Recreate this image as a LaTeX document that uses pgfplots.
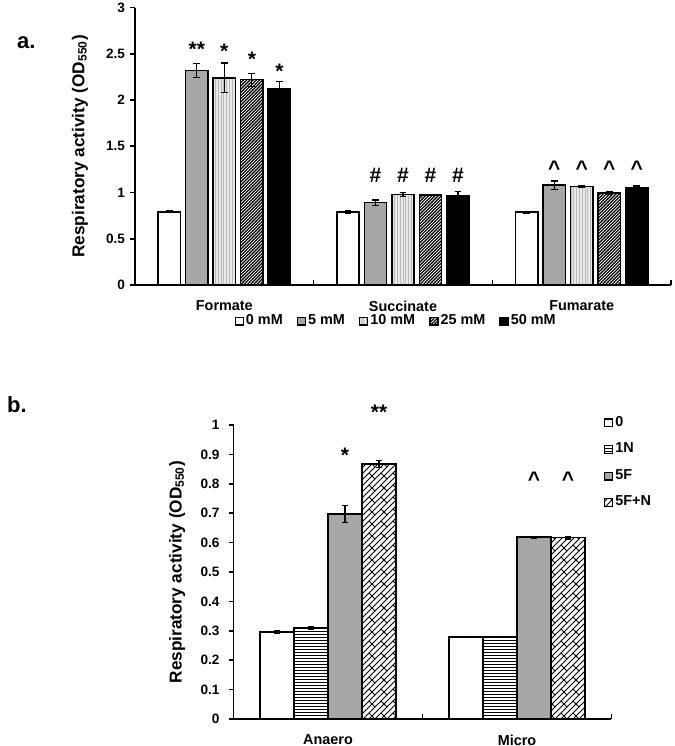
\documentclass[border=0pt]{standalone}
\usepackage{fontspec}
\setmainfont{Liberation Sans}
\usepackage{pgfplots}
\usepackage{pgfplotstable}
\pgfplotsset{compat=1.18}
\usetikzlibrary{patterns}

\definecolor{gfive}{RGB}{166,166,166}

\pgfdeclarepatternformonly{denseNE}{\pgfqpoint{-0.3pt}{-0.3pt}}{\pgfqpoint{1.9pt}{1.9pt}}{\pgfqpoint{1.6pt}{1.6pt}}{%
  \pgfsetlinewidth{0.6pt}%
  \pgfpathmoveto{\pgfqpoint{-0.1pt}{-0.1pt}}%
  \pgfpathlineto{\pgfqpoint{1.7pt}{1.7pt}}%
  \pgfusepath{stroke}}
\pgfdeclarepatternformonly{hfine}{\pgfqpoint{-0.1pt}{-0.4pt}}{\pgfqpoint{1.6pt}{0.4pt}}{\pgfqpoint{1.5pt}{1.5pt}}{%
  \pgfsetlinewidth{0.5pt}%
  \pgfpathmoveto{\pgfqpoint{-0.1pt}{0pt}}%
  \pgfpathlineto{\pgfqpoint{1.6pt}{0pt}}%
  \pgfusepath{stroke}}
\pgfdeclarepatternformonly{vfine}{\pgfqpoint{-0.4pt}{-0.1pt}}{\pgfqpoint{0.4pt}{1.6pt}}{\pgfqpoint{1.4pt}{1.5pt}}{%
  \pgfsetlinewidth{0.5pt}%
  \pgfpathmoveto{\pgfqpoint{0pt}{-0.1pt}}%
  \pgfpathlineto{\pgfqpoint{0pt}{1.6pt}}%
  \pgfusepath{stroke}}
\pgfdeclarepatternformonly{diagbricks}{\pgfqpoint{-0.3pt}{-0.3pt}}{\pgfqpoint{6.3pt}{6.3pt}}{\pgfqpoint{6pt}{6pt}}{%
  \pgfsetlinewidth{0.45pt}%
  \pgfpathmoveto{\pgfqpoint{0pt}{0pt}}\pgfpathlineto{\pgfqpoint{6pt}{6pt}}%
  \pgfpathmoveto{\pgfqpoint{3pt}{0pt}}\pgfpathlineto{\pgfqpoint{6pt}{3pt}}%
  \pgfpathmoveto{\pgfqpoint{0pt}{3pt}}\pgfpathlineto{\pgfqpoint{3pt}{6pt}}%
  \pgfpathmoveto{\pgfqpoint{0pt}{3pt}}\pgfpathlineto{\pgfqpoint{1.5pt}{1.5pt}}%
  \pgfpathmoveto{\pgfqpoint{4.5pt}{4.5pt}}\pgfpathlineto{\pgfqpoint{6pt}{3pt}}%
  \pgfusepath{stroke}}

\newcommand{\tickfont}{\fontsize{6.8}{8}\selectfont\bfseries}
\newcommand{\catfont}{\fontsize{7.2}{8.5}\selectfont\bfseries}
\newcommand{\labfont}{\fontsize{8.6}{10}\selectfont\bfseries}
\newcommand{\annfont}{\fontsize{10.5}{12}\selectfont\bfseries}

% top chart data: x y err
\pgfplotstableread{
x y e
0 0.790 0.010
1 0.786 0.015
2 0.786 0.008
}\tzero
\pgfplotstableread{
x y e
0 2.320 0.075
1 0.890 0.030
2 1.080 0.045
}\tfive
\pgfplotstableread{
x y e
0 2.240 0.160
1 0.980 0.020
2 1.067 0.010
}\tten
\pgfplotstableread{
x y e
0 2.220 0.070
1 0.975 0.006
2 0.995 0.020
}\ttwentyfive
\pgfplotstableread{
x y e
0 2.120 0.080
1 0.960 0.055
2 1.050 0.020
}\tfifty
% bottom chart data
\pgfplotstableread{
x y e
0 0.296 0.005
1 0.279 0.002
}\bzero
\pgfplotstableread{
x y e
0 0.309 0.005
1 0.279 0.002
}\bone
\pgfplotstableread{
x y e
0 0.697 0.028
1 0.619 0.003
}\bfive
\pgfplotstableread{
x y e
0 0.868 0.012
1 0.617 0.005
}\bfiven

\pgfplotsset{
  mybars/.style={
    ybar, bar width=#1,
    axis x line*=bottom, axis y line*=left,
    axis line style={line width=0.8pt,-},
    tick align=outside, major tick length=2.5pt,
    tick style={line width=0.8pt, black},
    xtick style={draw=none},
    extra x tick labels={},
    extra x tick style={tick align=inside, xtick style={draw=black}},
    yticklabel style={font=\tickfont},
    /pgf/number format/assume math mode=true,
    ylabel={Respiratory activity (OD\textsubscript{550})},
    scale only axis, clip=false,
    legend cell align=left,
    legend image code/.code={\draw[##1, line width=0.7pt] (0pt,-1.9pt) rectangle (4pt,1.9pt);},
    every axis plot/.append style={draw=black, line width=0.8pt,
      /pgfplots/error bars/y dir=both, /pgfplots/error bars/y explicit,
      /pgfplots/error bars/error bar style={line width=0.6pt, draw=black, solid},
      /pgfplots/error bars/error mark options={rotate=90, mark size=1.7pt, line width=0.6pt, draw=black}},
  },
}

\begin{document}
\begin{tikzpicture}
\useasboundingbox (0,0) rectangle (337.5pt,373pt);

\node[anchor=west, font=\fontsize{11}{13}\selectfont\bfseries] at (5pt,351.5pt) {a.};
\node[anchor=west, font=\fontsize{11}{13}\selectfont\bfseries] at (0pt,170.5pt) {b.};

\begin{axis}[
  mybars=0.125,
  at={(67.5pt,230.5pt)}, anchor=south west,
  width=268pt, height=138.75pt,
  xmin=-0.5, xmax=2.5, ymin=0, ymax=3,
  ytick={0,0.5,1,1.5,2,2.5,3},
  xtick={0,1,2}, xticklabels={Formate,Succinate,Fumarate},
  xticklabel style={font=\catfont, yshift=-2pt},
  extra x ticks={0.5,1.5,2.5},
  every axis y label/.style={at={(axis description cs:-0.1026,0.5)}, rotate=90, anchor=center, font=\labfont},
  yticklabel style={xshift=1pt},
  legend columns=5,
  legend style={draw=none, fill=none, font=\catfont, at={(0.185,-0.13)}, anchor=west,
    inner sep=0pt, nodes={inner xsep=1pt},
    /tikz/every even column/.append style={column sep=6pt}},
]
\addplot[bar shift=-0.308, fill=white] table[x=x,y=y,y error=e]{\tzero};
\addplot[bar shift=-0.154, fill=gfive] table[x=x,y=y,y error=e]{\tfive};
\addplot[bar shift=0, fill=gray!18, postaction={pattern=vfine, pattern color=gray!55}] table[x=x,y=y,y error=e]{\tten};
\addplot[bar shift=0.154, fill=white, postaction={pattern=denseNE}] table[x=x,y=y,y error=e]{\ttwentyfive};
\addplot[bar shift=0.308, fill=black] table[x=x,y=y,y error=e]{\tfifty};
\legend{0 mM,5 mM,10 mM,25 mM,50 mM}

\node[font=\annfont, anchor=base] at (axis cs:-0.154,2.47) {**};
\node[font=\annfont, anchor=base] at (axis cs:0,2.45) {*};
\node[font=\annfont, anchor=base] at (axis cs:0.154,2.36) {*};
\node[font=\annfont, anchor=base] at (axis cs:0.308,2.23) {*};
\node[font=\annfont, anchor=base] at (axis cs:0.846,1.11) {\#};
\node[font=\annfont, anchor=base] at (axis cs:1,1.11) {\#};
\node[font=\annfont, anchor=base] at (axis cs:1.154,1.11) {\#};
\node[font=\annfont, anchor=base] at (axis cs:1.308,1.11) {\#};
\node[font=\annfont, anchor=base] at (axis cs:1.846,1.18) {\textasciicircum};
\node[font=\annfont, anchor=base] at (axis cs:2,1.18) {\textasciicircum};
\node[font=\annfont, anchor=base] at (axis cs:2.154,1.18) {\textasciicircum};
\node[font=\annfont, anchor=base] at (axis cs:2.308,1.18) {\textasciicircum};
\end{axis}

\begin{axis}[
  mybars=0.18,
  at={(116.75pt,13.5pt)}, anchor=south west,
  width=189pt, height=147pt,
  xmin=-0.5, xmax=1.5, ymin=0, ymax=1,
  ytick={0,0.1,0.2,0.3,0.4,0.5,0.6,0.7,0.8,0.9,1},
  xtick={0,1}, xticklabels={Anaero,Micro},
  xticklabel style={font=\catfont, yshift=-1.8pt},
  extra x ticks={0.5,1.5},
  every axis y label/.style={at={(axis description cs:-0.149,0.5)}, rotate=90, anchor=center, font=\labfont},
  yticklabel style={xshift=-1pt},
  legend style={draw=none, fill=none, font=\catfont, at={(1,1)}, anchor=north west,
    xshift=-4pt, yshift=6.5pt, inner sep=0pt, nodes={inner xsep=1pt}, row sep=2.8pt},
]
\addplot[bar shift=-0.27, fill=white] table[x=x,y=y,y error=e]{\bzero};
\addplot[bar shift=-0.09, fill=white, postaction={pattern=hfine}] table[x=x,y=y,y error=e]{\bone};
\addplot[bar shift=0.09, fill=gfive] table[x=x,y=y,y error=e]{\bfive};
\addplot[bar shift=0.27, fill=white, postaction={pattern=diagbricks}] table[x=x,y=y,y error=e]{\bfiven};
\legend{0,1N,5F,5F+N}

\node[font=\annfont, anchor=base] at (axis cs:0.09,0.872) {*};
\node[font=\annfont, anchor=base] at (axis cs:0.27,1.018) {**};
\node[font=\annfont, anchor=base] at (axis cs:1.09,0.79) {\textasciicircum};
\node[font=\annfont, anchor=base] at (axis cs:1.27,0.79) {\textasciicircum};
\end{axis}
\end{tikzpicture}
\end{document}
